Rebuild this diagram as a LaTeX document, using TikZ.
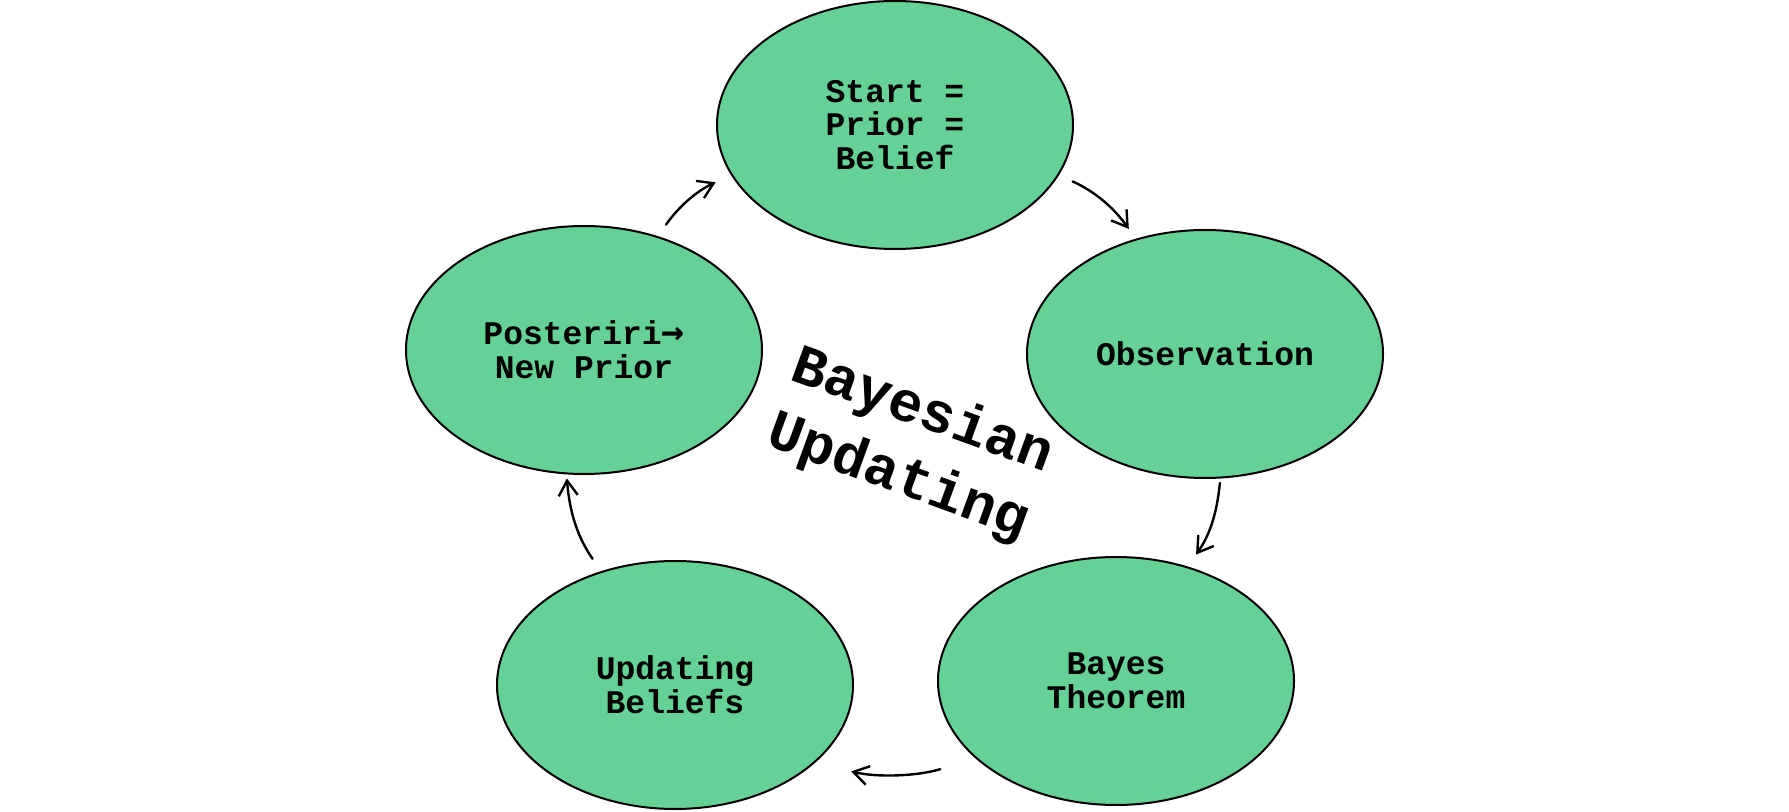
\documentclass[tikz,border=0pt]{standalone}
\usepackage{fontspec}
\setmonofont{Liberation Mono}
\newfontfamily\arrowfont{DejaVu Sans Mono}
\usetikzlibrary{shapes.geometric,arrows.meta}
\definecolor{leaf}{HTML}{66D196}
\begin{document}
\begin{tikzpicture}[x=.5pt, y=-.5pt, font=\ttfamily\bfseries\fontsize{16.5}{16.9}\selectfont, line join=round, line cap=round,
	stage/.style={ellipse, draw, line width=1pt, fill=leaf, minimum width=178pt, minimum height=124pt, inner sep=0pt, align=center},
	cyc/.style={line width=1.2pt, -{Straight Barb[length=7.5pt,width=9.5pt]}, bend left=15}]
		\useasboundingbox (0,0) rectangle (1789,812);
		\node[stage] (start) at (895,125) {Start =\\Prior =\\Belief};
		\node[stage] (obs) at (1205,354) {Observation};
		\node[stage] (bayes) at (1116,681) {Bayes\\Theorem};
		\node[stage] (upd) at (675,685) {Updating\\Beliefs};
		\node[stage] (post) at (584,350) {Posteriri{\arrowfont\bfseries\fontsize{19}{16.9}\selectfont →}\\New Prior};
		\node[rotate=-20, align=center, font=\ttfamily\bfseries\fontsize{28.5}{35}\selectfont] (title) at (910,445) {Bayesian\\Updating};
		\draw[cyc, shorten <=7.5pt, shorten >=6pt] (start.-17) to (obs.121);
		\draw[cyc, shorten <=2.2pt, shorten >=7.3pt] (obs.-83) to (bayes.58);
		\draw[cyc, shorten <=18.5pt, shorten >=18.5pt] (bayes.209) to (upd.-29);
		\draw[cyc, shorten <=7.5pt, shorten >=2pt] (upd.123) to (post.-98);
		\draw[cyc, shorten <=7pt, shorten >=8.5pt] (post.57) to (start.197);
\end{tikzpicture}
\end{document}
